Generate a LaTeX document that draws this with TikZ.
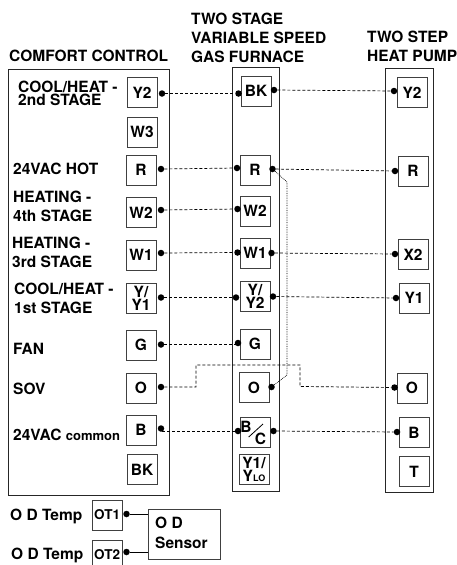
\documentclass[tikz,border=0pt]{standalone}
\usepackage{fontspec}
\setmainfont{TeX Gyre Heros}
\usetikzlibrary{calc}
\tikzset{
    term/.style={draw=black!75, line width=0.8pt, minimum size=30pt, inner sep=0pt, font=\bfseries\fontsize{15.5}{13}\selectfont, align=center},
    panel/.style={draw=black!85, line width=0.9pt},
    lbl/.style={anchor=west, inner sep=0pt, font=\bfseries\fontsize{15.5}{19}\selectfont, align=left},
    dot/.style={circle, fill=black, inner sep=0pt, minimum size=6.5pt},
    wire/.style={densely dashed, line width=0.7pt},
}
\begin{document}
\begin{tikzpicture}[x=1pt,y=-1pt]
    \useasboundingbox (0,0) rectangle (457,565);

    % panels
    \draw [panel] (8.5,69) rectangle (169.5,495);
    \draw [panel] (232,67) rectangle (279,491);
    \draw [panel] (385,68) rectangle (433,492);

    % headings
    \node [lbl] (hcomfort) at (9,55.5) {COMFORT CONTROL};
    \node [lbl] (hfurnace) at (191,37.5) {TWO STAGE\\VARIABLE SPEED\\GAS FURNACE};
    \node [lbl] (hpump) at (367,46.5) {TWO STEP\\HEAT PUMP};

    % thermostat terminals
    \foreach \n/\t/\x/\y in
    {cYtwo/Y2/142/92.5, cWthree/W3/142/132, cR/R/141/170, cWtwo/W2/141/212.5, cWone/W1/141/255,
     cY/{Y/\\Y1}/141/298, cG/G/141/345, cO/O/141/388, cB/B/141/430, cBK/BK/142/469.5}
    {
        \node [term] (\n) at (\x,\y) {\t};
    };

    % furnace terminals
    \foreach \n/\t/\x/\y in
    {fBK/BK/256/91, fR/R/255/170, fWtwo/W2/255/211, fWone/W1/255/253, fY/{Y/\\Y2}/255/296,
     fG/G/255/344, fO/O/254/387.5, fBC//255/432}
    {
        \node [term] (\n) at (\x,\y) {\t};
    };
    \node [term] (fYL) at (254,469) {Y1/\\Y{\fontsize{9}{9}\selectfont LO}};
    \node [inner sep=0pt, font=\bfseries\fontsize{15.5}{13}\selectfont] (fBCb) at (246,427) {B};
    \node [inner sep=0pt, font=\bfseries\fontsize{15.5}{13}\selectfont] (fBCc) at (260.5,438.5) {C};
    \draw [line width=0.8pt] ($(fBC)+(-6.3,5)$) -- ($(fBC)+(8,-8)$);

    % heat pump terminals
    \foreach \n/\t/\x/\y in
    {pYtwo/Y2/412/92.5, pR/R/413/171, pXtwo/X2/413/254.5, pYone/Y1/414/298, pO/O/412/388, pB/B/414/432.5, pT/T/414/471.5}
    {
        \node [term] (\n) at (\x,\y) {\t};
    };

    % comfort control labels
    \node [lbl, font=\bfseries\fontsize{15.5}{13}\selectfont] (lYtwo) at (18,93) {COOL/HEAT -\\2nd STAGE};
    \node [lbl] (lR) at (13,168.5) {24VAC HOT};
    \node [lbl] (lWtwo) at (13,206.5) {HEATING -\\4th STAGE};
    \node [lbl] (lWone) at (12,252) {HEATING -\\3rd STAGE};
    \node [lbl] (lY) at (14,298) {COOL/HEAT -\\1st STAGE};
    \node [lbl] (lG) at (13,348.5) {FAN};
    \node [lbl] (lO) at (13,388.5) {SOV};
    \node [lbl] (lB) at (13,434.5) {24VAC {\fontsize{13}{13}\selectfont common}};

    % terminal dots
    \foreach \n/\x/\y in
    {dcYtwo/162/93.5, dcR/161/169, dcWtwo/161/210, dcWone/161/253, dcY/161/297.5, dcG/161/344.5, dcO/161/387, dcB/161/428.5,
     dfBKl/238.5/93.5, dfBKr/274/90, dfRl/237/168, dfRr/272.5/169, dfWtwo/237.5/209, dfWonel/237.5/252.5, dfWoner/271.5/253,
     dfYl/236/297.5, dfYr/273/296.5, dfG/238/343, dfOr/271.5/387, dfBl/238/431, dfBr/273.5/431,
     dpYtwo/394/91, dpR/395/171, dpXtwo/395/254, dpYone/396/298, dpO/394.5/387.5, dpB/397/432,
     dOTone/126.5/514, dOTtwo/126.5/552}
    {
        \node [dot] (\n) at (\x,\y) {};
    };

    % wiring
    \draw [wire] (dcYtwo) -- (dfBKl);
    \draw [wire] (dcR) -- (dfRl);
    \draw [wire] (dcWtwo) -- (dfWtwo);
    \draw [wire] (dcWone) -- (dfWonel);
    \draw [wire] (dcY) -- (dfYl);
    \draw [wire] (dcG) -- (dcG -| dfG);
    \draw [wire] (dfBl) -- (dfBl -| dcB);
    \draw [wire] (dfBKr) -- (dpYtwo);
    \draw [wire] (dfRr) -- (dpR);
    \draw [wire] (dfWoner) -- (dpXtwo);
    \draw [wire] (dfYr) -- (dpYone);
    \draw [wire] (dfBr) -- (dpB);
    \draw [wire] (dcO) -- (196,387) -- (196,365) -- (300,365) -- (300,386.5) -- (dpO);
    \draw [wire, densely dotted] (dfRr) -- (287,182) -- (287,375) -- (dfOr);

    % sensor
    \node [draw=black!75, line width=0.8pt, minimum width=72pt, minimum height=50pt, inner sep=0pt] (sensor) at (184,534) {};
    \node [lbl, font=\bfseries\fontsize{15.5}{20}\selectfont] (lsensor) at (155,532.5) {O D\\Sensor};
    \node [term, font=\bfseries\fontsize{13.5}{13}\selectfont] (OTone) at (107,515) {OT1};
    \node [term, font=\bfseries\fontsize{13.5}{13}\selectfont] (OTtwo) at (107,555) {OT2};
    \node [lbl] (lOTone) at (10,516.5) {O D Temp};
    \node [lbl] (lOTtwo) at (11,555.5) {O D Temp};
    \draw [line width=0.7pt] (dOTone) -- (dOTone -| sensor.west);
    \draw [line width=0.7pt] (dOTtwo) -- (dOTtwo -| sensor.west);
\end{tikzpicture}
\end{document}
